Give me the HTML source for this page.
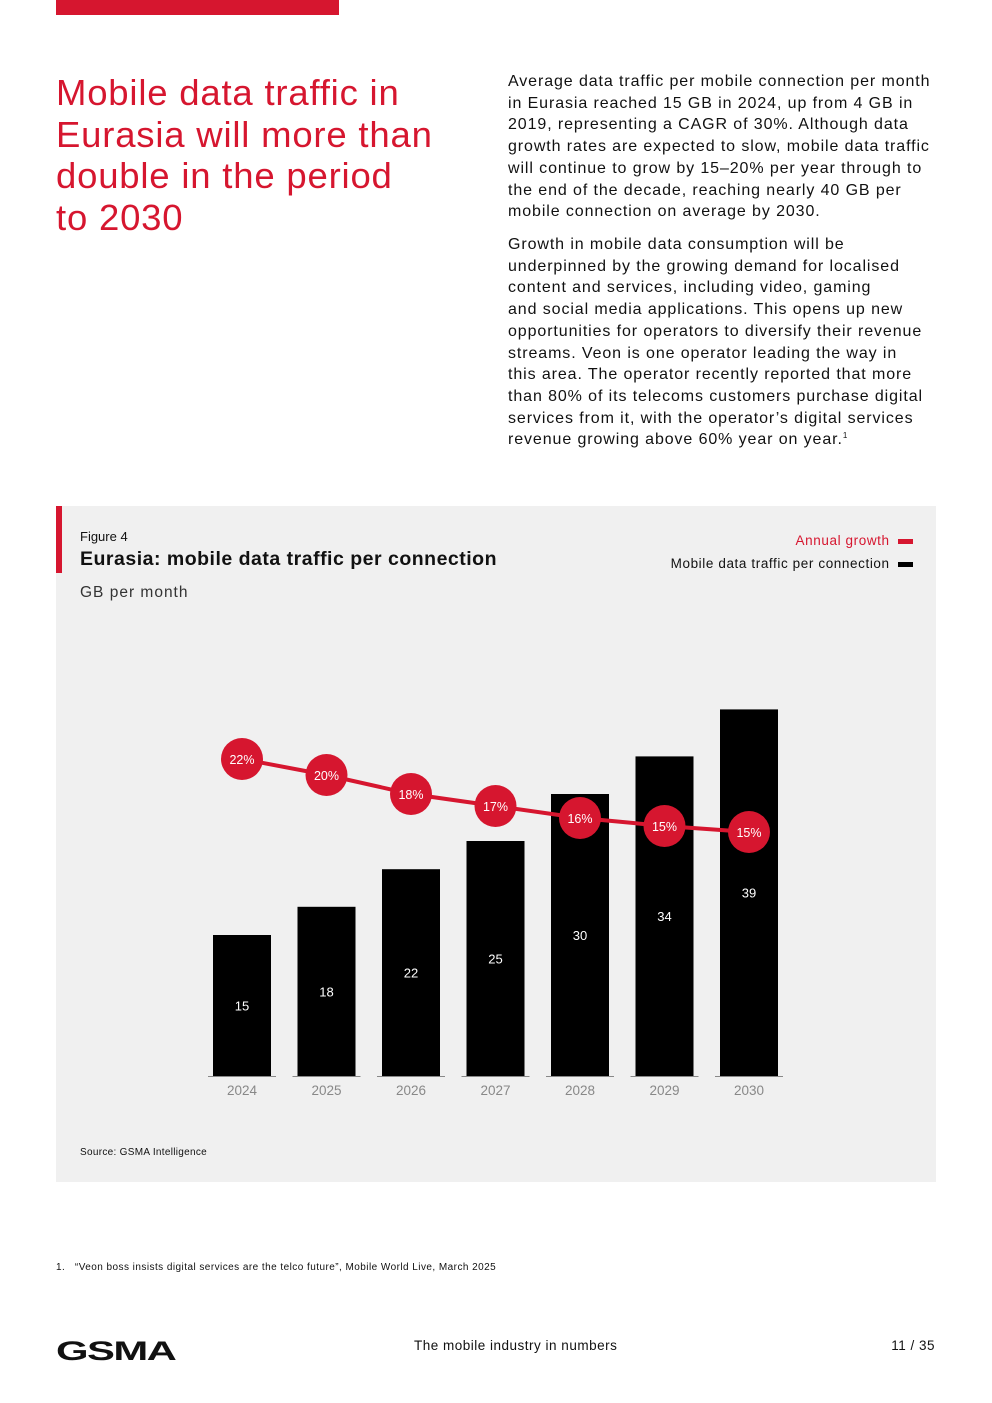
<!DOCTYPE html>
<html><head><meta charset="utf-8">
<style>
body{margin:0;width:992px;height:1403px;background:#fff;font-family:"Liberation Sans",sans-serif;position:relative;overflow:hidden;color:#111}
.abs{position:absolute}
#title{left:56px;top:72px;white-space:nowrap;font-size:36.5px;line-height:41.6px;letter-spacing:0.8px;color:#d6162f;margin:0;font-weight:normal}
.body{left:508px;white-space:nowrap;font-size:16px;line-height:21.7px;letter-spacing:0.9px;margin:0}
sup{line-height:0;font-size:8px;vertical-align:6px}
</style></head><body>
<div class="abs" style="left:56px;top:0;width:283px;height:15px;background:#d6162f"></div>
<h1 class="abs" id="title">Mobile data traffic in<br>Eurasia will more than<br>double in the period<br>to 2030</h1>
<p class="abs body" style="top:71px">Average data traffic per mobile connection per month<br>in Eurasia reached 15 GB in 2024, up from 4 GB in<br>2019, representing a CAGR of 30%. Although data<br>growth rates are expected to slow, mobile data traffic<br>will continue to grow by 15–20% per year through to<br>the end of the decade, reaching nearly 40 GB per<br>mobile connection on average by 2030.</p>
<p class="abs body" style="top:234px">Growth in mobile data consumption will be<br>underpinned by the growing demand for localised<br>content and services, including video, gaming<br>and social media applications. This opens up new<br>opportunities for operators to diversify their revenue<br>streams. Veon is one operator leading the way in<br>this area. The operator recently reported that more<br>than 80% of its telecoms customers purchase digital<br>services from it, with the operator’s digital services<br>revenue growing above 60% year on year.<sup>1</sup></p>

<div class="abs" style="left:56px;top:506px;width:880px;height:676px;background:#f0f0f0"></div>
<div class="abs" style="left:56px;top:506px;width:6px;height:67px;background:#d6162f"></div>
<div class="abs" style="left:80px;top:529px;font-size:13px">Figure 4</div>
<div class="abs" style="left:80px;top:548px;font-size:19.5px;font-weight:bold;letter-spacing:0.5px">Eurasia: mobile data traffic per connection</div>
<div class="abs" style="left:80px;top:584px;font-size:15.5px;color:#333;letter-spacing:1px">GB per month</div>
<div class="abs" style="right:79px;top:533px;font-size:13.5px;color:#d6162f;letter-spacing:0.6px">Annual growth <span style="display:inline-block;width:15px;height:5px;background:#d6162f;vertical-align:middle;margin-left:4px"></span></div>
<div class="abs" style="right:79px;top:556px;font-size:13.5px;color:#111;letter-spacing:0.6px">Mobile data traffic per connection <span style="display:inline-block;width:15px;height:5px;background:#000;vertical-align:middle;margin-left:4px"></span></div>

<svg class="abs" id="chart" style="left:0;top:0" width="992" height="1403"></svg>

<div class="abs" style="left:80px;top:1147px;font-size:10px;letter-spacing:0.3px">Source: GSMA Intelligence</div>
<div class="abs" style="left:56px;top:1262px;font-size:10px;letter-spacing:0.45px">1.&nbsp;&nbsp;&nbsp;“Veon boss insists digital services are the telco future”, Mobile World Live, March 2025</div>
<div class="abs" style="left:56px;top:1336px;font-size:27px;font-weight:900;letter-spacing:-1px;transform:scaleX(1.55);transform-origin:left;line-height:30px">GSMA</div>
<div class="abs" style="left:414px;top:1338px;font-size:13.5px;letter-spacing:0.5px">The mobile industry in numbers</div>
<div class="abs" style="right:57px;top:1338px;font-size:13.5px;letter-spacing:0.5px">11 / 35</div>

<script>
const years=["2024","2025","2026","2027","2028","2029","2030"];
const traffic=[15,18,22,25,30,34,39];
const growth=[21.9,20.3,18.4,17.2,16.0,15.2,14.6];
const growthLabels=["22%","20%","18%","17%","16%","15%","15%"];
const NS="http://www.w3.org/2000/svg";
const svg=document.getElementById('chart');
const x0=242,step=84.5,baseY=1076,barW=58;
const xPos=i=>x0+i*step;
const yBar=v=>baseY-v*9.4;
const yLine=g=>978-10*g;
function mk(t,a,p){const e=document.createElementNS(NS,t);for(const k in a)e.setAttribute(k,a[k]);(p||svg).appendChild(e);return e;}
traffic.forEach((v,i)=>{
 const r=mk('rect',{x:xPos(i)-barW/2,y:yBar(v),width:barW,height:baseY-yBar(v),fill:'#000'});
 
 
 const t=mk('text',{x:xPos(i),y:(yBar(v)+baseY)/2+5,'text-anchor':'middle',fill:'#fff','font-size':13,'font-family':'Liberation Sans, sans-serif'});
 t.textContent=v;
 
 
 const a=mk('line',{x1:xPos(i)-34,x2:xPos(i)+34,y1:baseY+0.5,y2:baseY+0.5,stroke:'#888','stroke-width':1});
 
 
 const l=mk('text',{x:xPos(i),y:baseY+19,'text-anchor':'middle',fill:'#888','font-size':13.5,'font-family':'Liberation Sans, sans-serif'});
 l.textContent=years[i];
 
 
});
const pl=mk('polyline',{points:growth.map((g,i)=>xPos(i)+','+yLine(g)).join(' '),fill:'none',stroke:'#d6162f','stroke-width':4});


growth.forEach((g,i)=>{
 const c=mk('circle',{cx:xPos(i),cy:yLine(g),r:21,fill:'#d6162f'});
 
 
 const t=mk('text',{x:xPos(i),y:yLine(g)+5,'text-anchor':'middle',fill:'#fff','font-size':12.5,'font-family':'Liberation Sans, sans-serif'});
 t.textContent=growthLabels[i];
 
 
});
</script>
</body></html>
